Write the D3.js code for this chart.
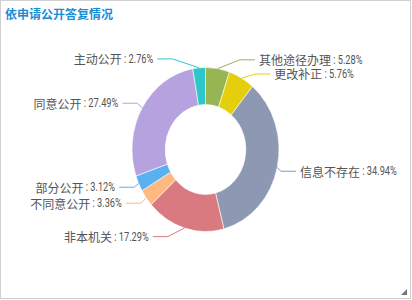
<!DOCTYPE html>
<html><head><meta charset="utf-8">
<script src="https://cdn.jsdelivr.net/npm/d3@7"></script>
<style>html,body{margin:0;padding:0;background:#fff;}svg{display:block;}</style>
</head><body>
<script>
// ---- data ----
const title = "依申请公开答复情况";
const categories = ["其他途径办理","更改补正","信息不存在","非本机关","不同意公开","部分公开","同意公开","主动公开"];
const values = [5.28, 5.76, 34.94, 17.29, 3.36, 3.12, 27.49, 2.76];
const palette = ["#97b552","#e5cf0d","#8d98b3","#d87a80","#ffb980","#5ab1ef","#b6a2de","#2ec7c9"];

// ---- layout ----
const W = 412, H = 300;
const cx = 205.5, cy = 149.5, r = 73.5, r0 = 40.3, sy = 82 / 73.5;
const LEN = 8, LEN2 = 15, DIST = 4, TH = 12.7;
const cjkFont = '"Microsoft YaHei","Noto Sans CJK SC",sans-serif';
const numFont = 'Roboto,"Noto Sans CJK SC",sans-serif';
const NUMSX = 0.77;

const color = d3.scaleOrdinal(categories, palette);
const fmt = d3.format(".2f");
const data = categories.map((c, i) => ({ name: c, v: values[i] }));

const svg = d3.select("body").append("svg").attr("width", W).attr("height", H);
svg.append("rect").attr("x", 0.5).attr("y", 0.5).attr("width", 410).attr("height", 298)
  .attr("fill", "#fff").attr("stroke", "#d0d0d0");
svg.append("path").attr("d", "M407,289L407,295L401,295Z").attr("fill", "#777");

svg.append("text").attr("x", 5).attr("y", 13).attr("dominant-baseline", "central")
  .attr("font-family", cjkFont).attr("font-size", 12).attr("font-weight", "bold")
  .attr("fill", "#1b8cd6").text(title);

const pie = d3.pie().sort(null).value(d => d.v);
const arcs = pie(data);
const arc = d3.arc().innerRadius(r0).outerRadius(r);

const g = svg.append("g").attr("transform", `translate(${cx},${cy}) scale(1,${sy})`);
g.selectAll("path").data(arcs).join("path")
  .attr("d", arc).attr("fill", d => color(d.data.name))
  .attr("stroke", "#fff").attr("stroke-width", 0.6).attr("vector-effect", "non-scaling-stroke");

// ---- label layout (echarts-like overlap avoidance) ----
const labels = arcs.map(a => {
  const m = (a.startAngle + a.endAngle) / 2, dx = Math.sin(m), dy = -Math.cos(m);
  const dir = dx < 0 ? -1 : 1;
  const x2 = cx + dx * (r + LEN), y2 = cy + dy * (r + LEN);
  return { a, dir, x: x2 + dir * (LEN2 + DIST), y: y2, h: TH,
           p0: [cx + dx * r, cy + dy * r] };
});

function adjustSide(list, dir) {
  list.sort((a, b) => a.y - b.y);
  function shiftUp(end, delta) {
    for (let j = end; j >= 0; j--) {
      list[j].y -= delta;
      if (j > 0 && list[j].y > list[j - 1].y + list[j - 1].h) break;
    }
  }
  function shiftDown(start, end, delta) {
    for (let j = start; j < end; j++) {
      list[j].y += delta;
      if (j > start && j + 1 < end && list[j + 1].y > list[j].y + list[j].h) {
        shiftUp(j, delta / 2); return;
      }
    }
    shiftUp(end - 1, delta / 2);
  }
  let lastY = 0;
  for (let i = 0; i < list.length; i++) {
    const delta = list[i].y - lastY;
    if (delta < 0) shiftDown(i, list.length, -delta);
    lastY = list[i].y + list[i].h;
  }
  const up = list.filter(l => l.y < cy), down = list.filter(l => l.y >= cy);
  function changeX(arr, isDown) {
    let last = isDown ? Number.MAX_VALUE : 0;
    arr.forEach(l => {
      const dY = Math.abs(l.y - cy);
      let dX = dY < r + LEN ? Math.sqrt((r + LEN + LEN2) ** 2 - dY * dY) : Math.abs(l.x - cx);
      if (isDown && dX >= last) dX = last - 10;
      if (!isDown && dX <= last) dX = last + 10;
      l.x = cx + dX * dir; last = dX;
    });
  }
  changeX(up, false); changeX(down, true);
}
adjustSide(labels.filter(l => l.dir > 0), 1);
adjustSide(labels.filter(l => l.dir < 0), -1);

const Y = y => cy + (y - cy) * sy;
const lg = svg.append("g");
labels.forEach(l => {
  const p2x = l.x - l.dir * DIST, p1x = p2x - l.dir * LEN2;
  const pts = [[l.p0[0], Y(l.p0[1])], [p1x, Y(l.y)], [p2x, Y(l.y)]];
  lg.append("path").attr("d", d3.line()(pts)).attr("fill", "none")
    .attr("stroke", color(l.a.data.name)).attr("stroke-width", 1);

  const ty = Y(l.y);
  const nameT = lg.append("text").attr("y", ty).attr("dominant-baseline", "central")
    .attr("font-family", cjkFont).attr("font-size", 12).attr("fill", "#555")
    .text(l.a.data.name);
  const valT = lg.append("text").attr("x", 0).attr("y", 0).attr("dominant-baseline", "central")
    .attr("font-family", numFont).attr("font-size", 12).attr("fill", "#555")
    .text(` : ${fmt(l.a.data.v)}%`).attr("xml:space", "preserve").style("white-space", "pre");
  const nw = nameT.node().getComputedTextLength();
  const vw = valT.node().getComputedTextLength() * NUMSX;
  if (l.dir > 0) {
    nameT.attr("x", l.x).attr("text-anchor", "start");
    valT.attr("transform", `translate(${l.x + nw},${ty}) scale(${NUMSX},1)`);
  } else {
    nameT.attr("x", l.x - vw).attr("text-anchor", "end");
    valT.attr("transform", `translate(${l.x - vw},${ty}) scale(${NUMSX},1)`);
  }
});
</script>
</body></html>
